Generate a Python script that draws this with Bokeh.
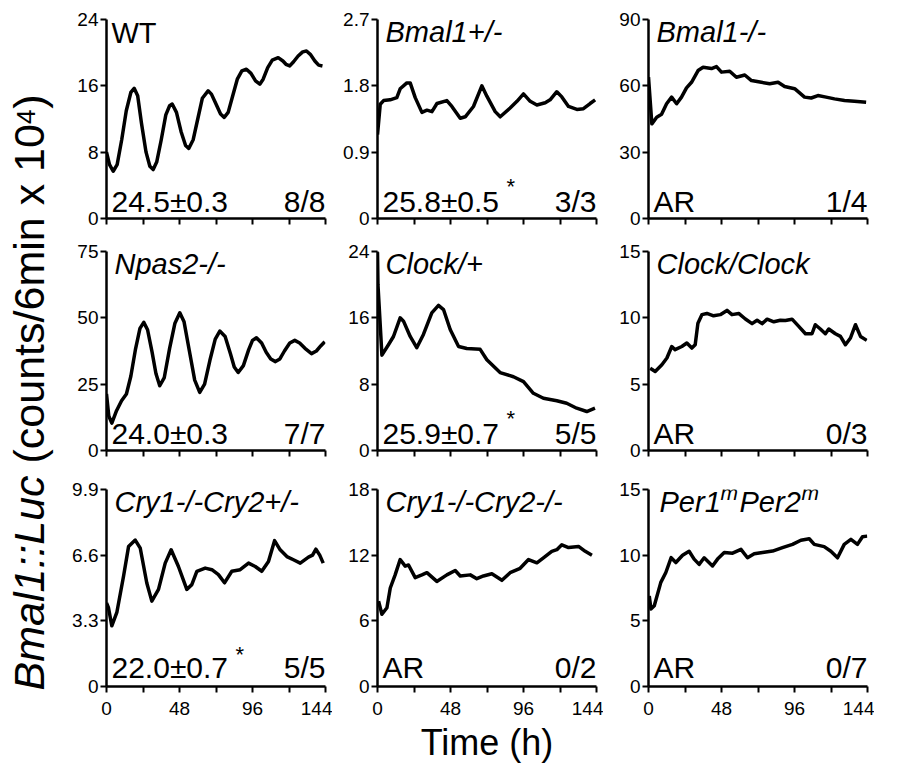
from bokeh.plotting import figure
from bokeh.models import Range1d, FixedTicker
from bokeh.layouts import row, column
from bokeh.embed import file_html
from bokeh.resources import INLINE
from bokeh.core.properties import value

FONT = "Liberation Sans"

# ---------------- data (hours, counts/6min x 10^4) ----------------
wt_t = [0, 2, 4.4, 7, 10, 13, 16, 18.2, 20.5, 23, 26, 28.5, 30.7, 33, 36, 39, 41.5, 43.2, 46, 49, 52,
        54.1, 57, 60, 63, 66.8, 69, 72, 75, 77.4, 80, 83, 86, 89, 92, 95, 98, 100.8, 103, 106, 109,
        112.9, 116, 118, 120.5, 123, 126, 129, 131.5, 134, 137, 139.5, 142]
wt_v = [8.0, 6.5, 5.7, 6.5, 9.5, 13.0, 15.2, 15.7, 14.8, 11.5, 8.0, 6.3, 5.9, 6.8, 9.5, 12.5, 13.6, 13.8,
        12.8, 10.5, 8.8, 8.45, 9.5, 12.0, 14.5, 15.4, 15.0, 13.8, 12.6, 12.2, 12.8, 14.8, 16.8, 17.8,
        18.0, 17.5, 16.6, 16.2, 16.8, 18.2, 19.1, 19.4, 19.0, 18.6, 18.4, 18.9, 19.6, 20.1, 20.2, 19.8,
        19.0, 18.5, 18.4]

bh_t = [0, 1.8, 4.0, 8.3, 12.7, 14.9, 19.3, 21.5, 24.8, 29.2, 32.5, 35.8, 39.1, 45.6, 48.9, 54.4, 57.7,
        63.1, 68.6, 71.9, 77.4, 80.7, 87.2, 91.7, 96.0, 100.4, 104.8, 110.3, 113.5, 117.9, 121.2,
        125.6, 131.1, 135.4, 139.8, 143.1]
bh_v = [1.14, 1.55, 1.60, 1.61, 1.64, 1.76, 1.84, 1.84, 1.64, 1.44, 1.47, 1.45, 1.56, 1.60, 1.52, 1.36,
        1.38, 1.52, 1.80, 1.66, 1.45, 1.38, 1.50, 1.59, 1.69, 1.59, 1.54, 1.57, 1.61, 1.72, 1.65, 1.52,
        1.48, 1.49, 1.56, 1.61]

bk_t = [0, 2.2, 5.4, 8.6, 11.9, 15.2, 18.5, 21.7, 25, 28.3, 32.6, 35.9, 41.4, 44.7, 48, 53.4, 57.8, 63.3,
        67.7, 74.2, 79.7, 85.2, 89.5, 96.1, 102.6, 107, 111.4, 116.8, 122.3, 128.9, 135.4, 143.1]
bk_v = [63.9, 42.8, 45.8, 47.1, 51.9, 54.9, 51.9, 54.9, 59.1, 61.6, 66.9, 68.4, 67.8, 68.7, 66.2, 66.6,
        63.9, 64.9, 62.4, 61.6, 60.9, 61.6, 59.7, 58.7, 54.9, 54.5, 55.6, 54.9, 54.1, 53.4, 53.0, 52.6]

np_t = [0, 1.5, 3.5, 6.6, 9.9, 13.1, 16, 19, 22, 24.5, 27, 30, 32.5, 35.0, 38, 41.5, 45, 48.2, 51, 54.5,
        58, 61.3, 64.5, 68, 71.5, 74.5, 78, 81.5, 84, 86.6, 90, 93.5, 96, 98.6, 102, 105, 108, 111.1,
        114, 117, 120.5, 123.8, 127, 130.5, 134.8, 138, 141, 143.5]
np_v = [21.3, 13, 10.3, 15, 18.75, 21.3, 28, 38, 46, 48.3, 45.5, 37, 29, 24.4, 27.5, 38.5, 48, 51.9,
        48.5, 37.5, 26.5, 21.9, 25, 34, 42, 45, 43, 36.5, 31.5, 29.4, 32, 38, 41.5, 42.5, 40.5, 37,
        34.5, 33.5, 34.5, 37.5, 40.5, 41.5, 40.5, 38.5, 36.5, 37.5, 39.5, 41]

cp_t = [0, 0.3, 2.9, 7.2, 10.5, 14.9, 17.1, 21.5, 25.8, 30.2, 35.7, 40.1, 43.4, 47.8, 53.3, 58.7, 67.5,
        71.9, 80.6, 89.4, 96.0, 102.5, 109.1, 117.9, 124.4, 131.0, 137.6, 143.0]
cp_v = [23.9, 20, 11.5, 12.75, 13.75, 16.0, 15.6, 13.75, 12.4, 14.0, 16.6, 17.5, 17.0, 14.6, 12.55,
        12.3, 12.2, 10.95, 9.4, 8.9, 8.3, 6.9, 6.3, 6.0, 5.7, 5.1, 4.7, 5.1]

cc_t = [1.1, 4.4, 8.8, 12.1, 15.3, 17.5, 21.9, 25.2, 28.5, 30.7, 32.5, 35.1, 38.4, 42.8, 47.2, 51.6, 54.9,
        59.3, 63.7, 68.1, 71.4, 74.7, 78, 82.4, 86.7, 90, 94.4, 98.8, 103.2, 107.5, 109.7, 113, 116.3,
        118.5, 122.9, 126.2, 129.5, 132.8, 136.1, 139.4, 143.5]
cc_v = [6.2, 5.95, 6.46, 6.97, 7.84, 7.6, 7.84, 8.1, 7.72, 7.97, 9.6, 10.24, 10.33, 10.15, 10.24, 10.56,
        10.24, 10.33, 9.91, 9.56, 9.82, 9.56, 9.9, 9.7, 9.82, 9.8, 9.9, 9.36, 8.8, 8.8, 9.48, 9.16, 8.8,
        9.16, 8.8, 8.6, 7.97, 8.48, 9.48, 8.6, 8.3]

ch_t = [0, 1.3, 3.5, 6.8, 11.2, 14.5, 18.9, 22.2, 26.5, 29.8, 34.2, 38.6, 42.5, 47.3, 52.8, 56.1, 59.4,
        64.9, 69.3, 73.6, 77.6, 82.4, 87.9, 93.4, 97.8, 102.1, 106.5, 110.5, 114.2, 118.6, 122.9, 127.4,
        132.8, 135.5, 137.7, 140.2, 142.5]
ch_v = [4.2, 3.96, 3.05, 3.72, 5.54, 7.03, 7.36, 6.95, 5.2, 4.29, 4.88, 6.2, 6.87, 6.03, 4.88, 5.12, 5.79,
        5.95, 5.87, 5.62, 5.21, 5.79, 5.87, 6.2, 6.03, 5.79, 6.28, 7.33, 6.87, 6.53, 6.37, 6.2, 6.5, 6.6,
        6.9, 6.6, 6.2]

cd_t = [0.7, 2.9, 6.2, 8.4, 11.6, 14.9, 18.2, 20.4, 24.8, 29.2, 32.5, 39, 45.6, 51.1, 54.4, 61, 65.3, 69.7,
        75.2, 81.8, 87.2, 93.8, 99.3, 104.8, 109.1, 114.6, 117.9, 121.2, 125.6, 132.2, 136.6, 141]
cd_v = [7.8, 6.6, 7.2, 9.0, 10.2, 11.6, 11.0, 11.1, 9.95, 10.2, 10.4, 9.6, 10.2, 10.6, 10.1, 10.2, 9.85,
        10.1, 10.3, 9.7, 10.4, 10.8, 11.6, 11.3, 11.75, 12.35, 12.5, 12.95, 12.7, 12.8, 12.35, 12.0]

pp_t = [0.5, 1.6, 3.8, 8.1, 11.4, 14.9, 18, 22.4, 26.7, 30, 33.3, 36.6, 42.1, 45.4, 49.8, 55.3, 60.8, 65.1,
        69.5, 75, 81.6, 88.1, 94.7, 100.2, 105.7, 109, 115.5, 119.9, 124.3, 128.7, 133.1, 137.4, 140.7,
        143.8]
pp_v = [6.9, 5.9, 6.15, 7.93, 8.68, 9.81, 9.44, 9.99, 10.3, 9.7, 9.3, 9.8, 9.18, 9.7, 10.2, 10.15, 10.44,
        9.8, 10.1, 10.2, 10.31, 10.57, 10.82, 11.14, 11.25, 10.82, 10.65, 10.3, 9.8, 10.82, 11.2, 10.82,
        11.4, 11.45]

y_max = [24, 2.7, 90, 75, 24, 15, 9.9, 18, 15]
y_ticks = [[0, 8, 16, 24], [0, 0.9, 1.8, 2.7], [0, 30, 60, 90],
           [0, 25, 50, 75], [0, 8, 16, 24], [0, 5, 10, 15],
           [0, 3.3, 6.6, 9.9], [0, 6, 12, 18], [0, 5, 10, 15]]
y_labels = [["0", "8", "16", "24"], ["0", "0.9", "1.8", "2.7"], ["0", "30", "60", "90"],
            ["0", "25", "50", "75"], ["0", "8", "16", "24"], ["0", "5", "10", "15"],
            ["0", "3.3", "6.6", "9.9"], ["0", "6", "12", "18"], ["0", "5", "10", "15"]]
x_ticks = [0, 48, 96, 144]
x_minor = [24, 72, 120]
x_labels = ["0", "48", "96", "144"]

titles = ["WT", "Bmal1+/-", "Bmal1-/-", "Npas2-/-", "Clock/+", "Clock/Clock",
          "Cry1-/-Cry2+/-", "Cry1-/-Cry2-/-", None]
period_txt = ["24.5\u00b10.3", "25.8\u00b10.5", "AR", "24.0\u00b10.3", "25.9\u00b10.7", "AR",
              "22.0\u00b10.7", "AR", "AR"]
starred = [False, True, False, False, True, False, True, False, False]
counts_txt = ["8/8", "3/3", "1/4", "7/7", "5/5", "0/3", "5/5", "0/2", "0/7"]

series = [(wt_t, wt_v), (bh_t, bh_v), (bk_t, bk_v), (np_t, np_v), (cp_t, cp_v), (cc_t, cc_v),
          (ch_t, ch_v), (cd_t, cd_v), (pp_t, pp_v)]

# ---------------- layout constants ----------------
FW = 219
FH = 199
L_B, R_B = 45, 7
TOPS = [19, 20, 25]
BOTS = [13, 14, 77]
SHIFT = 0.42   # empirical baseline correction (fraction of font size)


def txt_bottom(p, s, dx, base_up, size, align="left"):
    fs = float(size)
    p.text(x=[0 if align == "left" else 144], y=[0], text=[s], x_offset=dx,
           y_offset=-base_up - SHIFT * fs,
           text_font=value(FONT), text_font_size=f"{size}px", text_font_style="normal",
           text_align=align, text_baseline="alphabetic", text_color="black")


def txt_top(p, ymax, s, dx, base_down, size, style="italic"):
    fs = float(size)
    p.text(x=[0], y=[ymax], text=[s], x_offset=dx, y_offset=base_down - SHIFT * fs,
           text_font=value(FONT), text_font_size=f"{size}px", text_font_style=style,
           text_align="left", text_baseline="alphabetic", text_color="black")


panels = []
for i in range(9):
    r, c = divmod(i, 3)
    ymax = y_max[i]
    p = figure(width=L_B + FW + R_B, height=TOPS[r] + FH + BOTS[r],
               x_range=Range1d(0, 144), y_range=Range1d(0, ymax),
               output_backend="svg", toolbar_location=None, tools="",
               min_border_left=L_B, min_border_right=R_B,
               min_border_top=TOPS[r], min_border_bottom=BOTS[r])
    p.outline_line_color = None
    p.grid.visible = False
    p.background_fill_color = "white"
    p.border_fill_color = "white"

    t, v = series[i]
    p.line(t, v, line_width=3.5, line_color="black", line_join="round")

    ya = p.yaxis[0]
    ya.ticker = FixedTicker(ticks=y_ticks[i])
    ya.major_label_overrides = {tk: lb for tk, lb in zip(y_ticks[i], y_labels[i])}
    xa = p.xaxis[0]
    if r < 2:
        xa.ticker = FixedTicker(ticks=[], minor_ticks=sorted(x_ticks + x_minor))
    else:
        xa.ticker = FixedTicker(ticks=x_ticks, minor_ticks=x_minor)
        xa.major_label_overrides = {tk: lb for tk, lb in zip(x_ticks, x_labels)}
    for ax in (ya, xa):
        ax.axis_line_width = 2.5
        ax.axis_line_color = "black"
        ax.major_tick_line_width = 2
        ax.major_tick_line_color = "black"
        ax.major_tick_out = 6
        ax.major_tick_in = 0
        ax.minor_tick_line_width = 2
        ax.minor_tick_line_color = "black"
        ax.minor_tick_out = 6
        ax.minor_tick_in = 0
        ax.major_label_text_font = FONT
        ax.major_label_text_font_size = "19px"
        ax.major_label_text_color = "black"
    ya.major_label_standoff = 2
    xa.major_label_standoff = 9
    if i == 7:
        xa.axis_label = "Time (h)"
        xa.axis_label_text_font = FONT
        xa.axis_label_text_font_size = "36px"
        xa.axis_label_text_font_style = "normal"
        xa.axis_label_text_color = "black"
        xa.axis_label_standoff = 4

    # titles
    if i == 0:
        txt_top(p, ymax, titles[i], 5, 26, 29, "normal")
    elif titles[i] is not None:
        txt_top(p, ymax, titles[i], 8, 25, 29, "italic")
    else:
        txt_top(p, ymax, "Per1", 11, 25, 29)
        txt_top(p, ymax, "m", 72, 12, 21)
        txt_top(p, ymax, "Per2", 91, 25, 29)
        txt_top(p, ymax, "m", 153, 12, 21)

    # period, significance and counts
    up = 4 if r < 2 else 6
    txt_bottom(p, period_txt[i], 5, up, 30)
    if starred[i]:
        txt_bottom(p, "*", 129, 23, 22)
    txt_bottom(p, counts_txt[i], 0, up, 30, align="right")
    panels.append(p)

grid_h = sum(TOPS[k] + FH + BOTS[k] for k in range(3))
grid = column(*[row(*panels[3 * k:3 * k + 3]) for k in range(3)])

# y-axis title (rotated), drawn in its own strip
YW = 61
ylab = figure(width=YW, height=grid_h, x_range=Range1d(0, YW), y_range=Range1d(0, grid_h),
              output_backend="svg", toolbar_location=None, tools="",
              x_axis_type=None, y_axis_type=None, min_border=0)
ylab.outline_line_color = None
ylab.grid.visible = False

F = 43
FS = 26
base_x = 47
y0 = grid_h - 690
pieces = [("Bmal1::Luc", "italic", F, 0, 5.002 * F + 0.278 * F),
          ("(counts/6min x 10", "normal", F, 0, 7.892 * F),
          ("4", "normal", FS, 11, 0.556 * FS + 1),
          (")", "normal", F, 0, 0.333 * F)]
yy = y0
for s, st, fs, raise_px, w in pieces:
    ylab.text(x=[base_x - raise_px - SHIFT * fs], y=[yy], text=[s], angle=1.5707963267948966,
              text_font=value(FONT), text_font_size=f"{fs}px", text_font_style=st,
              text_align="left", text_baseline="alphabetic", text_color="black")
    yy += w

layout = row(ylab, grid)

with open("out.html", "w") as f:
    f.write(file_html(layout, INLINE))
